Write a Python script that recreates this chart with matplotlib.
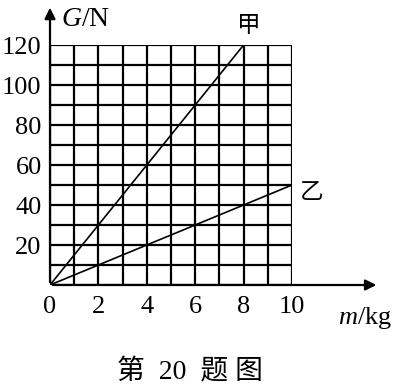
import matplotlib.pyplot as plt

# data
jia_mass = [0, 8]
jia_weight = [0, 120]
yi_mass = [0, 10]
yi_weight = [0, 50]
x_ticks = [0, 2, 4, 6, 8, 10]
y_ticks = [20, 40, 60, 80, 100, 120]

serif = 'Liberation Serif'
mixed = ['Liberation Serif', 'Noto Sans CJK SC']

plt.rcParams['mathtext.fontset'] = 'custom'
plt.rcParams['mathtext.it'] = 'Liberation Serif:italic'
plt.rcParams['mathtext.rm'] = 'Liberation Serif'

fig = plt.figure(figsize=(3.98, 3.87), dpi=100)
ax = fig.add_axes([50 / 398, 102 / 387, 242 / 398, 240 / 387])
ax.set_xlim(0, 10)
ax.set_ylim(0, 120)

# grid: every 1 kg and every 10 N
for gx in range(0, 11):
    ax.axvline(gx, color='black', lw=1.6, zorder=1)
for gy in range(0, 121, 10):
    ax.axhline(gy, color='black', lw=1.6, zorder=1)

ax.plot(jia_mass, jia_weight, color='black', lw=1.2, zorder=2)
ax.plot(yi_mass, yi_weight, color='black', lw=1.2, zorder=2)

for s in ax.spines.values():
    s.set_visible(False)
ax.tick_params(length=0)
ax.tick_params(axis='x', pad=8)
ax.tick_params(axis='y', pad=6)
ax.set_xticks(x_ticks)
ax.set_yticks(y_ticks)
ax.set_xticklabels([str(v) for v in x_ticks], fontfamily=serif, fontsize=19)
ax.set_yticklabels([str(v) for v in y_ticks], fontfamily=serif, fontsize=19)

# axis arrows
ax.annotate('', xy=(13.6, 0), xytext=(0, 0), annotation_clip=False,
            arrowprops=dict(arrowstyle='-|>', color='black', lw=1.6, mutation_scale=16))
ax.annotate('', xy=(0, 140), xytext=(0, 0), annotation_clip=False,
            arrowprops=dict(arrowstyle='-|>', color='black', lw=1.6, mutation_scale=16))
ax.text(0.45, 133, r'$\mathit{G}$/N', fontfamily=serif, fontsize=20, va='center', ha='left')
ax.text(11.9, -16.5, r'$\mathit{m}$/kg', fontfamily=serif, fontsize=19, va='center', ha='left')

ax.text(8.2, 129, '甲', fontfamily=mixed, fontsize=17, ha='center', va='center')
ax.text(10.8, 46, '乙', fontfamily=mixed, fontsize=17, ha='center', va='center')

fig.text(190 / 398, 1 - 372 / 387, '第  20  题 图', fontfamily=mixed, fontsize=20,
         ha='center', va='center')

fig.savefig('out.png', dpi=100)
